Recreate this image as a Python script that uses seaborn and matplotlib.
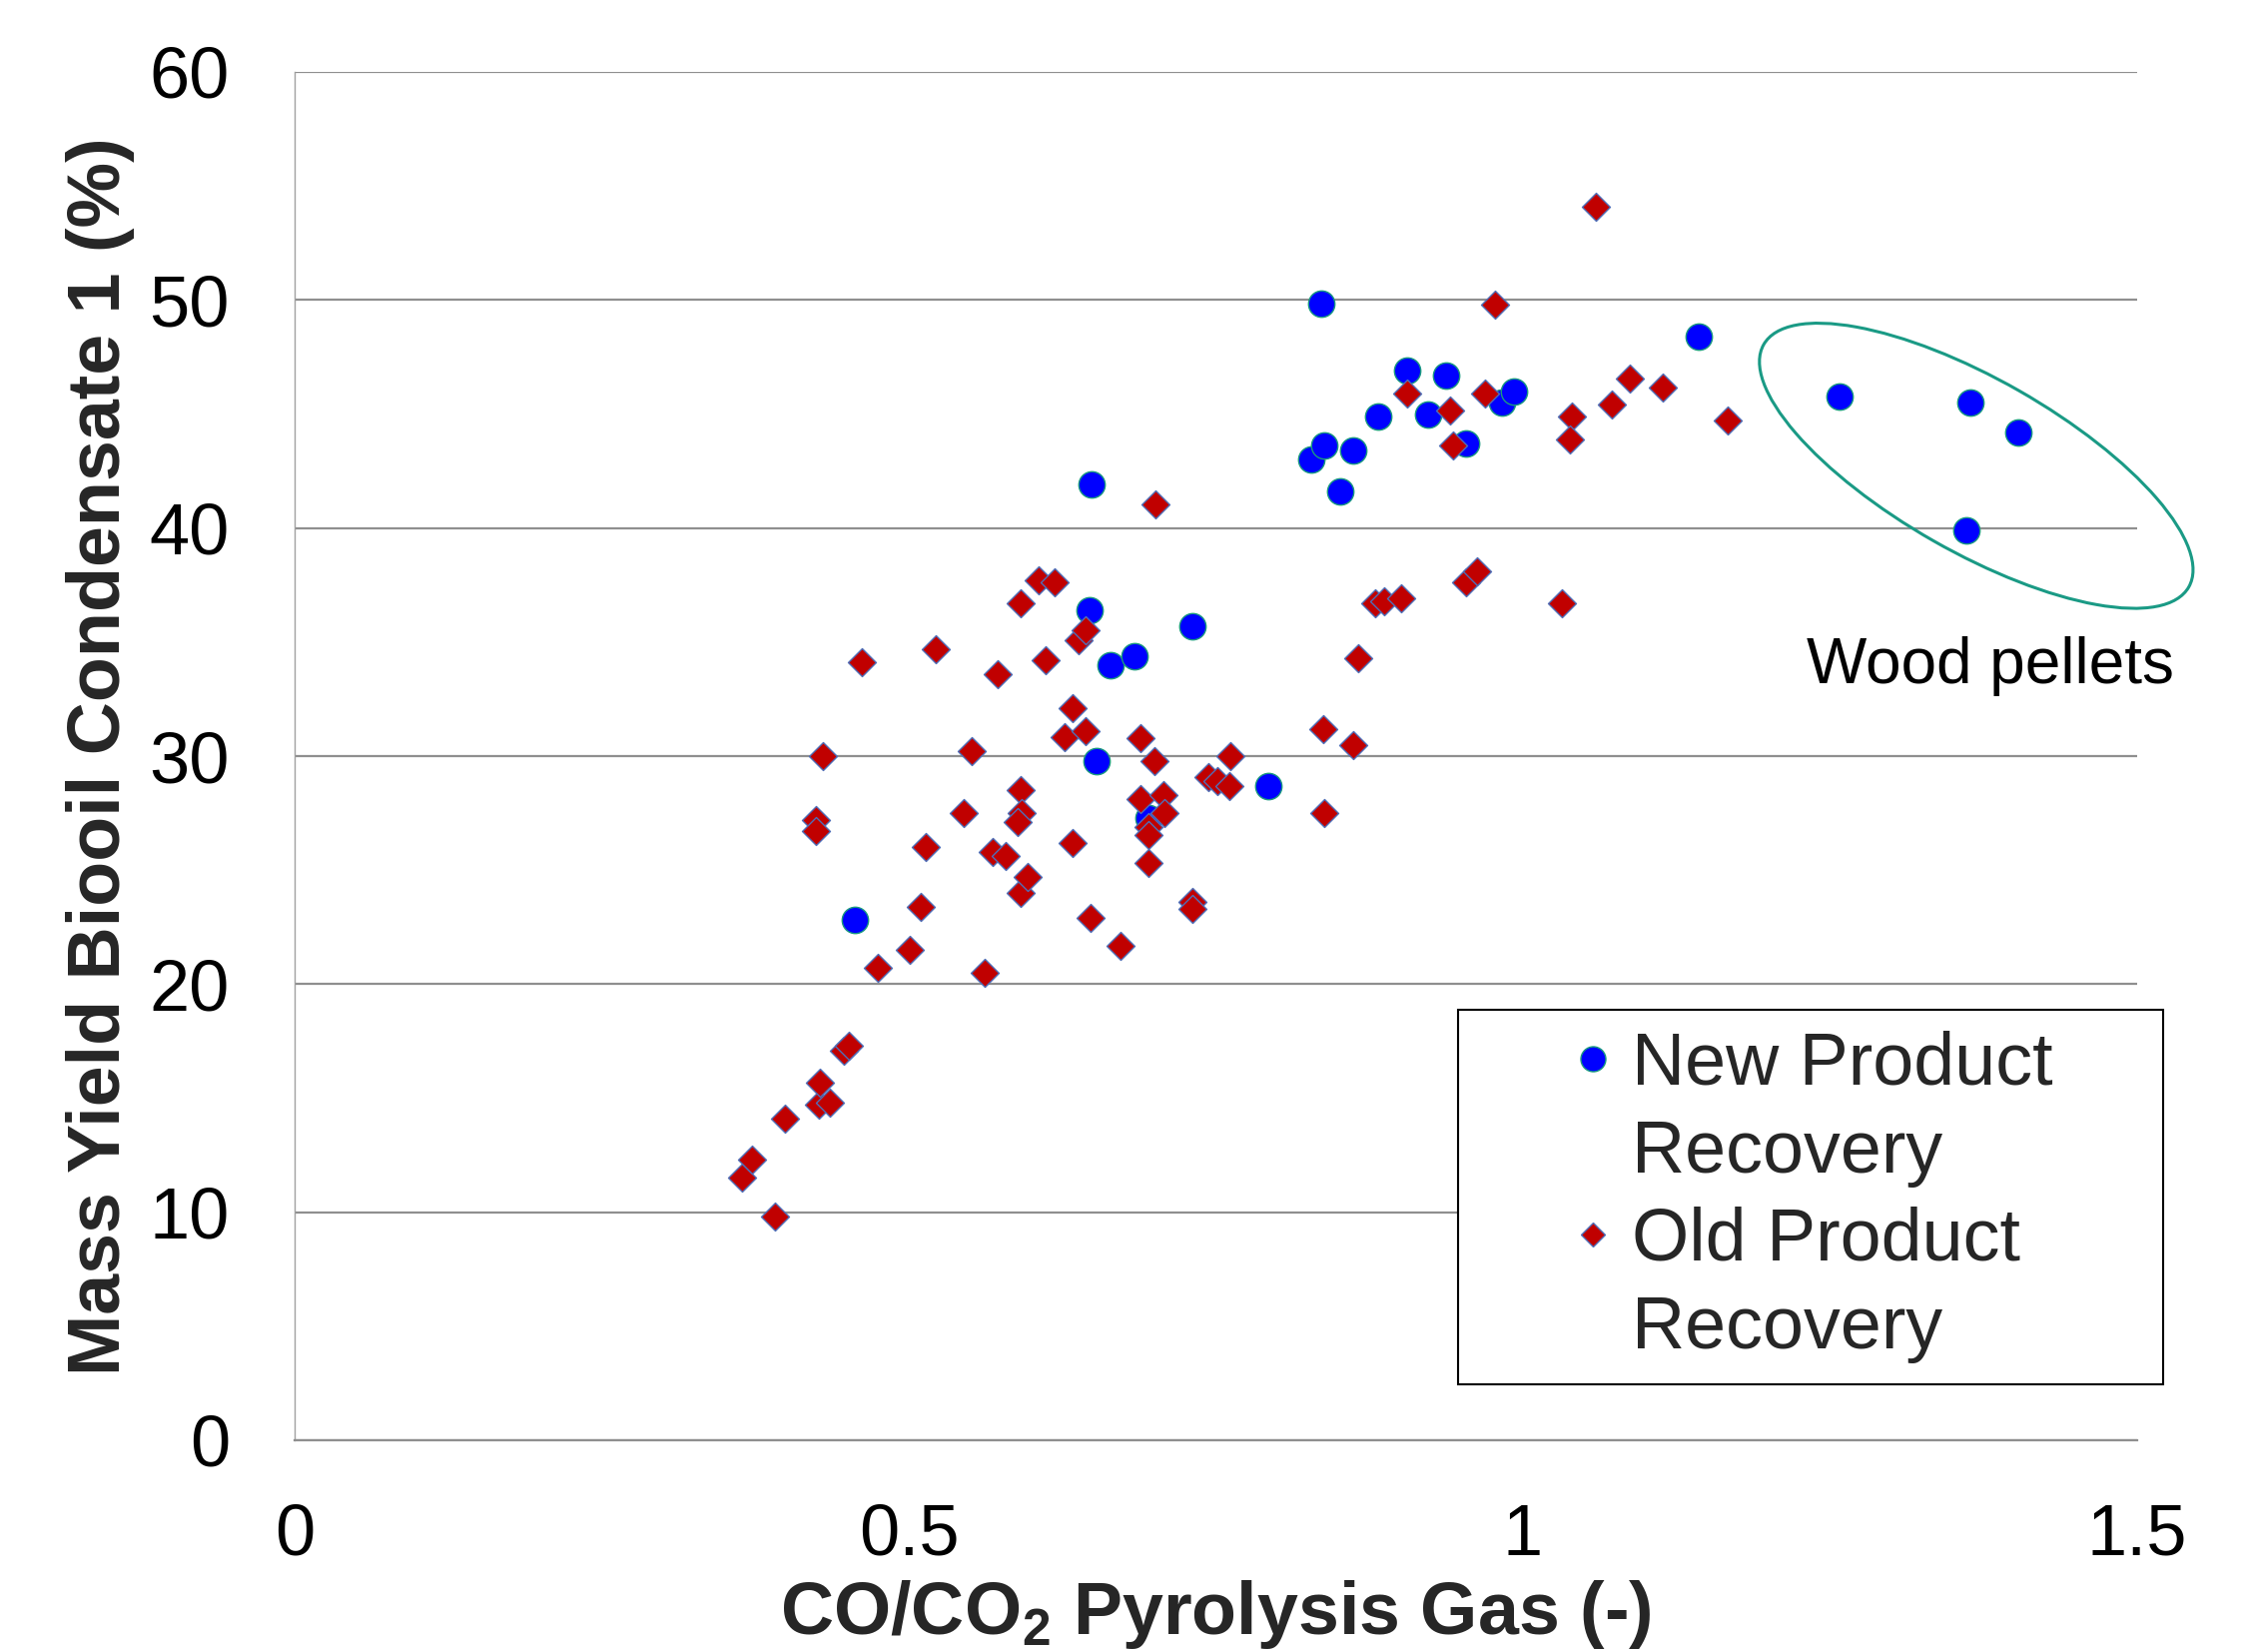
import matplotlib
matplotlib.use("Agg")
import matplotlib.pyplot as plt
import seaborn as sns
import pandas as pd
from matplotlib.patches import Ellipse
from matplotlib.lines import Line2D
from matplotlib.transforms import ScaledTranslation

# ---------------- data ----------------
new_x = [0.456, 0.649, 0.647, 0.664, 0.684, 0.731, 0.653, 0.695, 0.793,
         0.836, 0.828, 0.838, 0.862, 0.851, 0.882, 0.906, 0.923, 0.937,
         0.954, 0.983, 0.993, 1.143, 1.258, 1.364, 1.403, 1.361]
new_y = [22.8, 41.9, 36.4, 34.0, 34.4, 35.7, 29.8, 27.3, 28.7,
         49.85, 43.0, 43.6, 43.4, 41.6, 44.9, 46.9, 45.0, 46.7,
         43.7, 45.5, 46.0, 48.4, 45.75, 45.5, 44.2, 39.9]

old_x = [0.364, 0.372, 0.391, 0.399, 0.427, 0.428, 0.436, 0.447, 0.451,
         0.475, 0.501, 0.510, 0.562, 0.591, 0.597, 0.648, 0.672, 0.731, 0.731,
         0.424, 0.424, 0.430, 0.462, 0.514, 0.522, 0.545, 0.551, 0.568, 0.572,
         0.579, 0.591, 0.592, 0.589, 0.591, 0.606, 0.619, 0.611, 0.633, 0.627,
         0.644, 0.638, 0.644, 0.633, 0.689, 0.700, 0.689, 0.707, 0.708, 0.695,
         0.695, 0.695, 0.744, 0.751, 0.761, 0.762, 0.701,
         0.837, 0.838, 0.862, 0.866, 0.880, 0.887, 0.901, 0.954, 0.963, 1.032,
         1.059, 0.977, 0.906, 0.969, 0.941, 0.943, 1.087, 1.114, 1.072, 1.040,
         1.038, 1.167]
old_y = [11.5, 12.3, 9.8, 14.1, 14.7, 15.7, 14.8, 17.1, 17.3,
         20.7, 21.5, 23.4, 20.5, 24.0, 24.7, 22.9, 21.7, 23.6, 23.3,
         27.2, 26.7, 30.0, 34.1, 26.0, 34.7, 27.5, 30.2, 25.8, 33.6,
         25.6, 28.5, 27.5, 27.1, 36.7, 37.7, 37.6, 34.2, 32.1, 30.85,
         31.1, 35.1, 35.5, 26.2, 30.8, 29.8, 28.1, 28.3, 27.5, 26.9,
         26.55, 25.3, 29.1, 28.9, 28.7, 30.0, 41.05,
         31.2, 27.5, 30.5, 34.3, 36.7, 36.8, 36.9, 37.6, 38.1, 36.7,
         54.1, 49.8, 45.9, 45.9, 45.15, 43.6, 46.55, 46.15, 45.4, 44.9,
         43.9, 44.7]

x_ticks = [0, 0.5, 1, 1.5]
x_tick_labels = ["0", "0.5", "1", "1.5"]
y_ticks = [0, 10, 20, 30, 40, 50, 60]
series_labels = ["New Product\nRecovery", "Old Product\nRecovery"]
annotation_text = "Wood pellets"
x_label = "CO/CO$_2$ Pyrolysis Gas (-)"
y_label = "Mass Yield Biooil Condensate 1 (%)"

# ---------------- style ----------------
sns.set_style("white")
plt.rcParams['font.family'] = ['Liberation Sans', 'DejaVu Sans']
plt.rcParams['mathtext.fontset'] = 'custom'
plt.rcParams['mathtext.rm'] = 'Liberation Sans:bold'
plt.rcParams['mathtext.default'] = 'rm'

BLUE = "#0000FF"
BLUE_EDGE = "#1a9a80"
RED = "#C00000"
RED_EDGE = "#4f6fb8"
GRID = "#8f8f8f"
TEAL = "#1a9a85"

W, H = 2255, 1654
fig = plt.figure(figsize=(W / 100, H / 100), dpi=100)
ax = fig.add_axes([295 / W, 1 - 1442 / H, (2140 - 295) / W, (1442 - 72) / H])

df_new = pd.DataFrame({"x": new_x, "y": new_y})
df_old = pd.DataFrame({"x": old_x, "y": old_y})

sns.scatterplot(data=df_new, x="x", y="y", ax=ax, marker="o", s=361,
                color=BLUE, edgecolor=BLUE_EDGE, linewidth=1.0, zorder=3,
                legend=False)
sns.scatterplot(data=df_old, x="x", y="y", ax=ax, marker="D", s=203,
                color=RED, edgecolor=RED_EDGE, linewidth=1.0, zorder=4,
                legend=False)

# ellipse around wood pellets (drawn in inches around a data point)
trans = fig.dpi_scale_trans + ScaledTranslation(1.369, 42.73, ax.transData)
ell = Ellipse((0, 0), width=4.90, height=1.73, angle=-29.7, transform=trans,
              fill=False, edgecolor=TEAL, linewidth=2.2, clip_on=False, zorder=5)
ax.add_patch(ell)

ax.text(1.231, 33.2, annotation_text, fontsize=46, ha='left', va='baseline',
        color='black')

# axes formatting
ax.set_xticks(x_ticks)
ax.set_xticklabels(x_tick_labels)
ax.set_yticks(y_ticks)
ax.tick_params(axis='both', direction='out', length=15.8, width=1.0,
               color='#a0a0a0', labelsize=52, labelcolor='black')
ax.tick_params(axis='y', pad=31)
ax.tick_params(axis='x', pad=29.5)
ax.grid(axis='y', color=GRID, linewidth=1.6)
ax.grid(axis='x', visible=False)
ax.set_axisbelow(True)
for s in ['top', 'right']:
    ax.spines[s].set_visible(False)
ax.spines['left'].set_color('#a0a0a0')
ax.spines['left'].set_linewidth(1.0)
ax.spines['bottom'].set_color(GRID)
ax.spines['bottom'].set_linewidth(1.6)

ax.set_xlabel(x_label, fontsize=53, fontweight='bold')
ax.xaxis.set_label_coords(0.5, -0.1005)
ax.set_ylabel(y_label, fontsize=53, fontweight='bold')
ax.yaxis.set_label_coords(-0.0867, 0.5)

ax.set_xlim(0, 1.5)
ax.set_ylim(0, 60)

# legend
h_new = Line2D([], [], ls='none', marker='o', markersize=18.0, mfc=BLUE,
               mec=BLUE_EDGE, mew=1.0)
h_old = Line2D([], [], ls='none', marker='D', markersize=12.5, mfc=RED,
               mec=RED_EDGE, mew=1.0)
blank1 = Line2D([], [], ls='none', marker=None)
blank2 = Line2D([], [], ls='none', marker=None)
l1a, l1b = series_labels[0].split("\n")
l2a, l2b = series_labels[1].split("\n")
leg = fig.legend(handles=[h_new, blank1, h_old, blank2],
                 labels=[l1a, l1b, l2a, l2b],
                 loc='upper left',
                 bbox_to_anchor=(1460 / W, 1 - 1385 / H, (2166 - 1460) / W,
                                 (1385 - 1011) / H),
                 bbox_transform=fig.transFigure, mode='expand',
                 borderaxespad=0, borderpad=0.28, labelspacing=0.26,
                 handlelength=3.1, handletextpad=-1.02, fontsize=53,
                 frameon=True, fancybox=False, edgecolor='black',
                 framealpha=1, alignment='left', numpoints=1)
leg.get_frame().set_linewidth(1.5)

fig.savefig("out.png", dpi=100)
